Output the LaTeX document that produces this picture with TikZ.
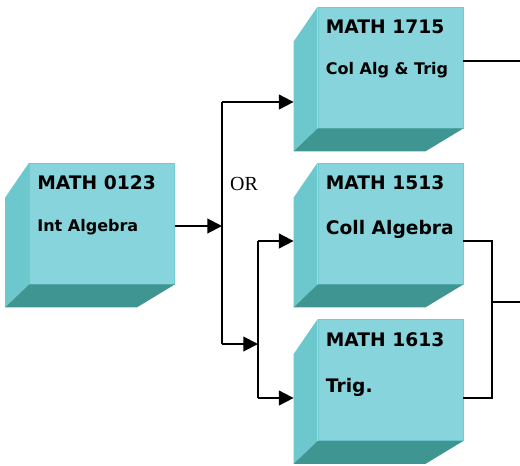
\documentclass[tikz,border=0pt]{standalone}
\usepackage{fontspec}
\setmainfont{Liberation Serif}
\newfontfamily\boxfont{DejaVu Sans}
\usetikzlibrary{arrows.meta}
\definecolor{frontcol}{HTML}{88D4DC}
\definecolor{edgecol}{HTML}{70CCD3}
\definecolor{leftcol}{HTML}{6CC8CC}
\definecolor{bottomcol}{HTML}{3F9592}
\tikzset{
  mbox/.style={fill=frontcol, draw=edgecol, line width=0.6pt, minimum width=108.75pt, minimum height=90.75pt, inner sep=0pt},
  mtitle/.style={anchor=west, inner sep=0pt, font=\boxfont\bfseries\fontsize{14}{16}\selectfont},
  msub/.style={anchor=west, inner sep=0pt, font=\boxfont\bfseries\fontsize{12}{14}\selectfont},
  conn/.style={line width=1.5pt},
  arr/.style={conn, -{Triangle[length=11pt,width=11pt]}}
}
\begin{document}
\begin{tikzpicture}[x=0.75pt,y=-0.75pt]
  \useasboundingbox (0,0) rectangle (520,465);
  % fronts of the boxes
  \node[mbox] (m0123) at (102,223.5) {};
  \node[mbox] (m1715) at (390.5,67.5) {};
  \node[mbox] (m1513) at (390.5,223.5) {};
  \node[mbox] (m1613) at (390.5,380) {};
  % side and bottom faces
  \foreach \b in {m0123,m1715,m1513,m1613} {
    \fill[leftcol] (\b.north west) -- ++(-24,35) -- ([shift={(-24,23)}]\b.south west) -- (\b.south west) -- cycle;
    \fill[bottomcol] (\b.south west) -- ++(-24,23) -- ([shift={(-38,23)}]\b.south east) -- (\b.south east) -- cycle;
  }
  % texts
  \node[mtitle] (t0123) at ([shift={(8,20)}]m0123.north west) {MATH 0123};
  \node[msub] (s0123) at ([shift={(8,65)}]m0123.north west) {Int Algebra};
  \node[mtitle] (t1715) at ([shift={(8,20)}]m1715.north west) {MATH 1715};
  \node[msub] (s1715) at ([shift={(8,64)}]m1715.north west) {Col Alg \& Trig};
  \node[mtitle] (t1513) at ([shift={(8,20)}]m1513.north west) {MATH 1513};
  \node[mtitle] (s1513) at ([shift={(8,67)}]m1513.north west) {Coll Algebra};
  \node[mtitle] (t1613) at ([shift={(8,21)}]m1613.north west) {MATH 1613};
  \node[mtitle] (s1613) at ([shift={(8,68)}]m1613.north west) {Trig.};
  \node[inner sep=0pt, font=\fontsize{15}{17}\selectfont] (or) at (244,184) {OR};
  % connectors
  \coordinate (j1) at (222,226);
  \coordinate (j1top) at (222,102);
  \coordinate (j1bot) at (222,344);
  \coordinate (j2) at (258,344);
  \coordinate (j2top) at (258,241);
  \coordinate (j2bot) at (258,398);
  \coordinate (out1715) at (520,61);
  \coordinate (j3top) at (492,241);
  \coordinate (j3bot) at (492,398);
  \coordinate (j3mid) at (492,302);
  \coordinate (out2) at (520,302);
  \draw[arr] (m0123.east |- j1) -- (j1);
  \draw[conn] (j1top) -- (j1bot);
  \draw[arr] (j1top) -- ([xshift=-18pt]m1715.west |- j1top);
  \draw[arr] (j1bot) -- (j2);
  \draw[conn] (j2top) -- (j2bot);
  \draw[arr] (j2top) -- ([xshift=-18pt]m1513.west |- j2top);
  \draw[arr] (j2bot) -- ([xshift=-18pt]m1613.west |- j2bot);
  \draw[conn] (m1715.east |- out1715) -- (out1715);
  \draw[conn] (m1513.east |- j3top) -- (j3top) -- (j3bot) -- (m1613.east |- j3bot);
  \draw[conn] (j3mid) -- (out2);
\end{tikzpicture}
\end{document}
